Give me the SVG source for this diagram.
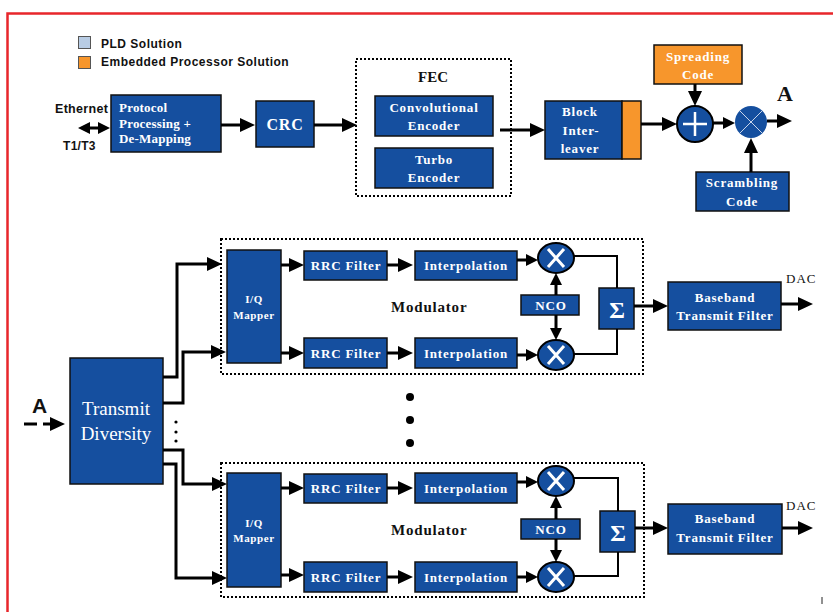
<svg xmlns="http://www.w3.org/2000/svg" width="833" height="612" viewBox="0 0 833 612">
<style>
.box{fill:#154f9f;stroke:#111;stroke-width:1.5}
.or{fill:#f7962c;stroke:#111;stroke-width:1.5}
.t{font-family:"Liberation Serif",serif;font-weight:bold;fill:#fff;font-size:13px;text-anchor:middle;letter-spacing:0.8px}
.tl{font-family:"Liberation Serif",serif;font-weight:bold;fill:#fff;font-size:13px;letter-spacing:0.2px}
.k{font-family:"Liberation Serif",serif;font-weight:bold;fill:#111}
.lg{font-family:"Liberation Sans",sans-serif;font-weight:bold;font-size:12px;fill:#111;letter-spacing:0.5px}
.c{fill:none;stroke:#000;stroke-width:3}
.c2{fill:none;stroke:#000;stroke-width:2}
.dot{fill:none;stroke:#000;stroke-width:2;stroke-dasharray:2 2}
.x{stroke:#fff;stroke-width:3}
.iq{font-size:11px;letter-spacing:0.6px}
</style>
<defs>
<marker id="ah" viewBox="0 0 15 14" refX="5" refY="7" markerWidth="15" markerHeight="14" markerUnits="userSpaceOnUse" orient="auto-start-reverse"><path d="M0,0 L15,7 L0,14 z" fill="#000"/></marker>
<marker id="as" viewBox="0 0 12 12" refX="4" refY="6" markerWidth="12" markerHeight="12" markerUnits="userSpaceOnUse" orient="auto-start-reverse"><path d="M0,0 L12,6 L0,12 z" fill="#000"/></marker>
</defs>
<rect width="833" height="612" fill="#fff"/>
<path d="M7.5,612 V13.5 H833" fill="none" stroke="#e8262b" stroke-width="2.5"/>
<line x1="822" y1="597" x2="822" y2="604" stroke="#222" stroke-width="1"/>

<g id="legend">
<rect x="78.5" y="36.5" width="12" height="12" fill="#b8cce4" stroke="#555"/>
<text class="lg" x="101" y="48">PLD Solution</text>
<rect x="78.5" y="56.5" width="12" height="12" fill="#f7962c" stroke="#555"/>
<text class="lg" x="101" y="66">Embedded Processor Solution</text>
</g>

<g id="ethernet-labels">
<text class="lg" x="55" y="113" style="font-size:12.5px;letter-spacing:0.3px">Ethernet</text>
<text class="lg" x="63" y="150" style="letter-spacing:0.3px">T1/T3</text>
</g>

<g id="protocol">
<rect class="box" x="111" y="95" width="110" height="57"/>
<text class="tl" x="119" y="112">Protocol</text>
<text class="tl" x="119" y="128">Processing +</text>
<text class="tl" x="119" y="143">De-Mapping</text>
</g>
<g id="crc">
<rect class="box" x="256" y="101" width="58" height="46"/>
<text class="t" x="285" y="130" style="font-size:16px">CRC</text>
</g>
<g id="fec">
<rect class="dot" x="356" y="59" width="155" height="137"/>
<text class="k" x="433" y="82" text-anchor="middle" style="font-size:15px">FEC</text>
</g>
<g id="conv">
<rect class="box" x="375" y="96" width="118" height="40"/>
<text class="t" x="434" y="112">Convolutional</text>
<text class="t" x="434" y="130">Encoder</text>
</g>
<g id="turbo">
<rect class="box" x="375" y="148" width="118" height="40"/>
<text class="t" x="434" y="164">Turbo</text>
<text class="t" x="434" y="182">Encoder</text>
</g>
<g id="interleaver">
<rect class="box" x="545" y="101" width="77" height="58"/>
<rect class="or" x="622" y="101" width="19" height="58"/>
<text class="t" x="580" y="116">Block</text>
<text class="t" x="581" y="135">Inter-</text>
<text class="t" x="580" y="153">leaver</text>
</g>
<g id="spreading">
<rect class="or" x="654" y="45" width="88" height="39"/>
<text class="t" x="698" y="61">Spreading</text>
<text class="t" x="698" y="79">Code</text>
</g>
<g id="adder">
<circle cx="695" cy="124" r="18" fill="#154f9f" stroke="#000" stroke-width="2"/>
<path d="M683,124 H707 M695,112 V136" stroke="#fff" stroke-width="2.5"/>
</g>
<g id="scrambler-mult">
<circle cx="751" cy="122" r="16" fill="#154f9f"/>
<path d="M740,111 L762,133 M762,111 L740,133" stroke="#c8d4ea" stroke-width="1"/>
</g>
<g id="label-a-out">
<text class="k" x="777" y="101" style="font-size:22px">A</text>
</g>
<g id="scrambling">
<rect class="box" x="696" y="172" width="93" height="39"/>
<text class="t" x="742" y="187">Scrambling</text>
<text class="t" x="742" y="206">Code</text>
</g>

<g id="label-a-in">
<text x="32" y="413" style="font-family:'Liberation Sans',sans-serif;font-weight:bold;font-size:21px;fill:#111">A</text>
</g>
<g id="transmit-diversity">
<rect class="box" x="70" y="358" width="93" height="126"/>
<text x="116" y="415" text-anchor="middle" style="font-family:'Liberation Serif',serif;font-size:19px;fill:#fff">Transmit</text>
<text x="116" y="440" text-anchor="middle" style="font-family:'Liberation Serif',serif;font-size:19px;fill:#fff">Diversity</text>
</g>
<g id="ellipsis-small">
<circle cx="176" cy="422" r="1.6" fill="#000"/>
<circle cx="176" cy="432" r="1.6" fill="#000"/>
<circle cx="176" cy="441" r="1.6" fill="#000"/>
</g>
<g id="ellipsis-big">
<circle cx="410" cy="397" r="4" fill="#000"/>
<circle cx="410" cy="420" r="4" fill="#000"/>
<circle cx="410" cy="443" r="4" fill="#000"/>
</g>

<g id="mod1">
<rect class="dot" x="221" y="239" width="422" height="135"/>
<text class="k" x="391" y="312" style="font-size:15px;letter-spacing:0.8px">Modulator</text>
</g>
<g id="iq1">
<rect class="box" x="227" y="250" width="54" height="113"/>
<text class="t iq" x="254" y="303">I/Q</text>
<text class="t iq" x="254" y="319">Mapper</text>
</g>
<g id="rrc1a"><rect class="box" x="304" y="251" width="83" height="29"/><text class="t" x="346" y="270">RRC Filter</text></g>
<g id="rrc1b"><rect class="box" x="304" y="338" width="83" height="30"/><text class="t" x="346" y="358">RRC Filter</text></g>
<g id="interp1a"><rect class="box" x="415" y="251" width="102" height="29"/><text class="t" x="466" y="270">Interpolation</text></g>
<g id="interp1b"><rect class="box" x="415" y="338" width="102" height="30"/><text class="t" x="466" y="358">Interpolation</text></g>
<g id="mix1a"><ellipse cx="556" cy="258" rx="18" ry="15" fill="#154f9f" stroke="#000" stroke-width="2"/><path class="x" d="M548,249 L564,267 M564,249 L548,267"/></g>
<g id="mix1b"><ellipse cx="556" cy="355" rx="18" ry="15" fill="#154f9f" stroke="#000" stroke-width="2"/><path class="x" d="M548,346 L564,364 M564,346 L548,364"/></g>
<g id="nco1"><rect class="box" x="521" y="295" width="58" height="20"/><text class="t" x="551" y="310">NCO</text></g>
<g id="sum1"><rect class="box" x="599" y="288" width="35" height="41"/><text class="t" x="617" y="318" style="font-size:24px;letter-spacing:0">Σ</text></g>
<g id="bb1"><rect class="box" x="668" y="282" width="113" height="48"/><text class="t" x="725" y="302">Baseband</text><text class="t" x="725" y="320">Transmit Filter</text></g>
<g id="dac1"><text x="786" y="283" style="font-family:'Liberation Serif',serif;font-size:13px;fill:#111;letter-spacing:1px">DAC</text></g>

<g id="mod2">
<rect class="dot" x="221" y="463" width="423" height="134"/>
<text class="k" x="391" y="535" style="font-size:15px;letter-spacing:0.8px">Modulator</text>
</g>
<g id="iq2">
<rect class="box" x="227" y="473" width="54" height="114"/>
<text class="t iq" x="254" y="527">I/Q</text>
<text class="t iq" x="254" y="542">Mapper</text>
</g>
<g id="rrc2a"><rect class="box" x="304" y="474" width="83" height="29"/><text class="t" x="346" y="493">RRC Filter</text></g>
<g id="rrc2b"><rect class="box" x="304" y="562" width="83" height="30"/><text class="t" x="346" y="582">RRC Filter</text></g>
<g id="interp2a"><rect class="box" x="415" y="473" width="102" height="30"/><text class="t" x="466" y="493">Interpolation</text></g>
<g id="interp2b"><rect class="box" x="415" y="562" width="102" height="30"/><text class="t" x="466" y="582">Interpolation</text></g>
<g id="mix2a"><ellipse cx="556" cy="481" rx="18" ry="15" fill="#154f9f" stroke="#000" stroke-width="2"/><path class="x" d="M548,472 L564,490 M564,472 L548,490"/></g>
<g id="mix2b"><ellipse cx="556" cy="577" rx="18" ry="15" fill="#154f9f" stroke="#000" stroke-width="2"/><path class="x" d="M548,568 L564,586 M564,568 L548,586"/></g>
<g id="nco2"><rect class="box" x="521" y="519" width="59" height="20"/><text class="t" x="551" y="534">NCO</text></g>
<g id="sum2"><rect class="box" x="600" y="511" width="35" height="41"/><text class="t" x="618" y="541" style="font-size:24px;letter-spacing:0">Σ</text></g>
<g id="bb2"><rect class="box" x="668" y="504" width="114" height="50"/><text class="t" x="725" y="523">Baseband</text><text class="t" x="725" y="542">Transmit Filter</text></g>
<g id="dac2"><text x="786" y="510" style="font-family:'Liberation Serif',serif;font-size:13px;fill:#111;letter-spacing:1px">DAC</text></g>

<g id="connectors">
<path class="c" d="M86,128 H102" marker-start="url(#as)" marker-end="url(#as)"/>
<path class="c" d="M221,125 H245" marker-end="url(#ah)"/>
<path class="c" d="M314,125 H347" marker-end="url(#ah)"/>
<path class="c" d="M500,130 H535" marker-end="url(#ah)"/>
<path class="c" d="M641,124 H667" marker-end="url(#ah)"/>
<path class="c" d="M695,84 V96" marker-end="url(#ah)"/>
<path class="c" d="M713,123 H727" marker-end="url(#as)"/>
<path class="c" d="M767,121 H782" marker-end="url(#ah)"/>
<path class="c" d="M751,172 V148" marker-end="url(#ah)"/>

<path class="c" d="M24,424 H37 M43,424 H55" marker-end="url(#ah)"/>

<path class="c" d="M163,377 H177 V264 H212" marker-end="url(#ah)"/>
<path class="c" d="M163,403 H183 V352 H216" marker-end="url(#ah)"/>
<path class="c" d="M163,450 H183 V484 H217" marker-end="url(#ah)"/>
<path class="c" d="M163,464 H176 V578 H217" marker-end="url(#ah)"/>

<path class="c" d="M281,265 H294" marker-end="url(#ah)"/>
<path class="c" d="M281,353 H294" marker-end="url(#ah)"/>
<path class="c" d="M387,265 H403" marker-end="url(#ah)"/>
<path class="c" d="M387,353 H403" marker-end="url(#ah)"/>
<path class="c" d="M517,260 H530" marker-end="url(#as)"/>
<path class="c" d="M517,355 H530" marker-end="url(#as)"/>
<path class="c" d="M556,295 V281" marker-end="url(#as)"/>
<path class="c" d="M556,315 V332" marker-end="url(#as)"/>
<path class="c2" d="M574,256 H617 V288"/>
<path class="c2" d="M574,354 H617 V329"/>
<path class="c" d="M634,306 H658" marker-end="url(#ah)"/>
<path class="c" d="M781,304 H803" marker-end="url(#ah)"/>

<path class="c" d="M281,488 H294" marker-end="url(#ah)"/>
<path class="c" d="M281,575 H294" marker-end="url(#ah)"/>
<path class="c" d="M387,488 H403" marker-end="url(#ah)"/>
<path class="c" d="M387,577 H403" marker-end="url(#ah)"/>
<path class="c" d="M517,482 H530" marker-end="url(#as)"/>
<path class="c" d="M517,577 H530" marker-end="url(#as)"/>
<path class="c" d="M556,519 V504" marker-end="url(#as)"/>
<path class="c" d="M556,539 V554" marker-end="url(#as)"/>
<path class="c2" d="M574,478 H618 V511"/>
<path class="c2" d="M574,576 H618 V552"/>
<path class="c" d="M635,528 H658" marker-end="url(#ah)"/>
<path class="c" d="M782,528 H803" marker-end="url(#ah)"/>
</g>
</svg>
